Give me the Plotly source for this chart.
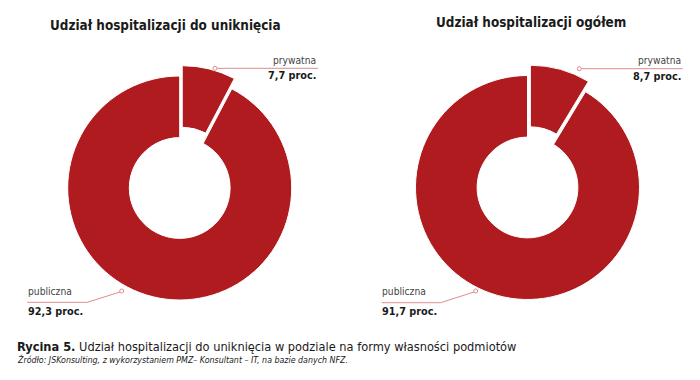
import plotly.graph_objects as go

W, H = 700, 380

# ---- data ----
labels = ["prywatna", "publiczna"]
left_values = [7.7, 92.3]
right_values = [8.7, 91.7]
titles = ["Udział hospitalizacji do uniknięcia", "Udział hospitalizacji ogółem"]
caption_bold = "Rycina 5."
caption_rest = " Udział hospitalizacji do uniknięcia w podziale na formy własności podmiotów"
source = "Źródło: JSKonsulting, z wykorzystaniem PMZ– Konsultant – IT, na bazie danych NFZ."

RED = "#AF1B1F"
LINE = "#E28A8E"
DARK = "#1a1a1a"
FONT = "DejaVu Sans Condensed, Lato, sans-serif"

R = 112
PULL = 0.095
HOLE = 0.45
centers = [(179.7, 188.0), (527.5, 187.5)]


def fx(x):
    return x / W


def fy(y):
    return 1 - y / H


def fmt(v):
    return f"{v:.1f}".replace(".", ",") + " proc."


fig = go.Figure()
half = R * (1 + PULL)
for (cx, cy), vals in zip(centers, [left_values, right_values]):
    fig.add_trace(go.Pie(
        labels=labels, values=vals, sort=False, direction="clockwise",
        rotation=0, hole=HOLE, pull=[PULL, 0], textinfo="none",
        hoverinfo="label+value",
        marker=dict(colors=[RED, RED], line=dict(color="white", width=1)),
        domain=dict(x=[fx(cx - half), fx(cx + half)],
                    y=[fy(cy + half), fy(cy - half)]),
        showlegend=False,
    ))

ann = []
shapes = []

# titles
title_pos = [(48, 26), (434, 23)]
for t, (x, y) in zip(titles, title_pos):
    ann.append(dict(text=f"<b>{t}</b>", x=fx(x), y=fy(y), xanchor="left", yanchor="middle",
                    font=dict(size=13.4, color=DARK, family=FONT)))

# leader labels
priv = [dict(tx=318, ty1=60, ty2=76, cx=215, cy=68.3, ex=318),
        dict(tx=683, ty1=61, ty2=77, cx=579.3, cy=68.7, ex=682.7)]
pub = [dict(tx=26, ty1=291, ty2=311, cx=121.7, cy=291, kx=87.3, ky=302.3, sx=27.3),
       dict(tx=380, ty1=291, ty2=311, cx=475.7, cy=291, kx=440.7, ky=302.7, sx=381.7)]

LBL = 10.2
VAL = 10.8
for p, vals in zip(priv, [left_values, right_values]):
    ann.append(dict(text=labels[0], x=fx(p["tx"]), y=fy(p["ty1"]), xanchor="right", yanchor="middle",
                    font=dict(size=LBL, color="#444", family=FONT)))
    ann.append(dict(text=f"<b>{fmt(vals[0])}</b>", x=fx(p["tx"]), y=fy(p["ty2"]), xanchor="right",
                    yanchor="middle", font=dict(size=VAL, color=DARK, family=FONT)))
    shapes.append(dict(type="line", xref="paper", yref="paper", x0=fx(p["cx"] + 2), y0=fy(p["cy"]),
                       x1=fx(p["ex"]), y1=fy(p["cy"]), line=dict(color=LINE, width=1)))
    shapes.append(dict(type="circle", xref="paper", yref="paper", x0=fx(p["cx"] - 2), x1=fx(p["cx"] + 2),
                       y0=fy(p["cy"] + 2), y1=fy(p["cy"] - 2), line=dict(color=LINE, width=1),
                       fillcolor="white"))

for p, vals in zip(pub, [left_values, right_values]):
    ann.append(dict(text=labels[1], x=fx(p["tx"]), y=fy(p["ty1"]), xanchor="left", yanchor="middle",
                    font=dict(size=LBL, color="#444", family=FONT)))
    ann.append(dict(text=f"<b>{fmt(vals[1])}</b>", x=fx(p["tx"]), y=fy(p["ty2"]), xanchor="left",
                    yanchor="middle", font=dict(size=VAL, color=DARK, family=FONT)))
    path = (f"M {fx(p['sx'])} {fy(p['ky'])} L {fx(p['kx'])} {fy(p['ky'])} "
            f"L {fx(p['cx'] - 1.7)} {fy(p['cy'] + 1)}")
    shapes.append(dict(type="path", xref="paper", yref="paper", path=path,
                       line=dict(color=LINE, width=1)))
    shapes.append(dict(type="circle", xref="paper", yref="paper", x0=fx(p["cx"] - 2), x1=fx(p["cx"] + 2),
                       y0=fy(p["cy"] + 2), y1=fy(p["cy"] - 2), line=dict(color=LINE, width=1),
                       fillcolor="white"))

# caption and source
ann.append(dict(text=f"<b>{caption_bold}</b>{caption_rest}", x=fx(15), y=fy(346), xanchor="left",
                yanchor="middle", font=dict(size=12.7, color=DARK, family=FONT)))
ann.append(dict(text=f"<i>{source}</i>", x=fx(15), y=fy(359.5), xanchor="left", yanchor="middle",
                font=dict(size=8.8, color=DARK, family=FONT)))

for a in ann:
    a.update(xref="paper", yref="paper", showarrow=False)

fig.update_layout(width=W, height=H, margin=dict(l=0, r=0, t=0, b=0),
                  paper_bgcolor="white", plot_bgcolor="white",
                  annotations=ann, shapes=shapes)

fig.write_html("out.html", config={"displayModeBar": False},
               post_script="document.body.style.margin='0px';")
